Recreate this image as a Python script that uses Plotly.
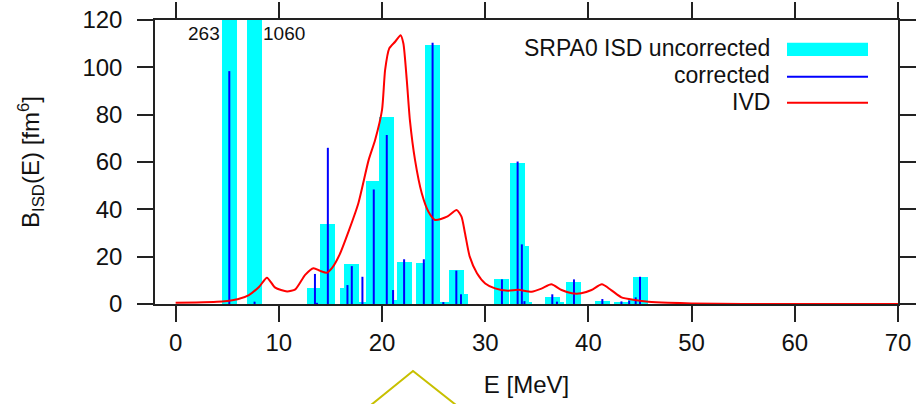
import plotly.graph_objects as go

# ---- data ----
E_levels = [5.2, 7.65, 13.5, 13.7, 14.75, 16.65, 17.07, 18.1, 19.2, 20.46, 21.07, 22.14,
            24.05, 24.9, 25.94, 27.2, 27.65, 31.62, 33.14, 33.55, 33.8, 36.5, 36.95,
            38.6, 41.35, 43.2, 43.95, 44.58, 45.0]
B_uncorrected = [263, 1060, 6.9, 0.5, 33.7, 6.9, 17.0, 0.5, 52.1, 78.9, 1.5, 17.9,
                 17.2, 109.4, 0.8, 14.3, 4.1, 10.4, 59.4, 24.5, 1.0, 3.1, 1.0,
                 9.4, 1.1, 0.8, 1.0, 2.0, 11.5]
B_corrected = [98.4, 1.0, 12.7, 0.5, 66.0, 8.0, 16.0, 11.5, 48.4, 71.4, 5.9, 18.9,
               18.9, 110.4, 0.8, 14.1, 4.1, 10.4, 60.2, 25.2, 1.2, 4.1, 1.0,
               10.4, 2.1, 1.1, 1.4, 2.8, 11.5]

E_ivd = [0, 2, 4, 5, 6, 7.1, 8.1, 8.85, 9.65, 10.8, 11.6, 12.55, 13.36, 14.0, 14.65, 15.2,
         15.9, 16.75, 17.7, 18.7, 19.33, 20.0, 20.3, 20.7, 21.27, 21.8, 22.07, 22.4, 22.7,
         23.2, 23.85, 24.5, 25.14, 26.3, 27.23, 27.7, 28.04, 28.5, 29.2, 30.0, 30.95, 32.2,
         33.2, 34.5, 35.5, 36.4, 37.4, 38.4, 39.3, 40.3, 41.3, 42.2, 43.2, 44.5, 45.8, 47.7,
         50, 55, 60, 70]
B_ivd = [0.5, 0.6, 0.9, 1.3, 2.0, 3.8, 7.3, 11.1, 6.9, 5.3, 6.2, 12.3, 15.1, 14.0, 13.2, 15.5,
         21.0, 30.6, 42.5, 60.8, 69.3, 82.0, 98.9, 108.0, 110.8, 113.6, 110.1, 94.6, 77.7,
         60.8, 46.8, 39.0, 35.5, 36.9, 39.7, 36.9, 29.9, 20.0, 13.0, 8.7, 6.6, 5.6,
         6.0, 5.2, 6.6, 8.3, 5.9, 4.5, 4.5, 5.9, 8.3, 5.9, 2.8, 1.7, 1.0, 0.55,
         0.25, 0.05, 0.0, 0.0]

x_ticks = [0, 10, 20, 30, 40, 50, 60, 70]
y_ticks = [0, 20, 40, 60, 80, 100, 120]

# ---- layout geometry ----
W, H = 919, 404
ML, MR, MT, MB = 155, 21, 20, 100
PW, PH = W - ML - MR, H - MT - MB
FONT = "Liberation Sans, Arial, Helvetica, sans-serif"


def px(x):
    return (x - ML) / PW


def py(y):
    return (H - MB - y) / PH


fig = go.Figure()

fig.add_trace(go.Bar(x=E_levels, y=B_uncorrected, width=1.45,
                     marker=dict(color="#00ffff", line=dict(width=0)),
                     name="SRPA0 ISD uncorrected", showlegend=False))

xs, ys = [], []
for e, b in zip(E_levels, B_corrected):
    xs += [e, e, None]
    ys += [0, b, None]
fig.add_trace(go.Scatter(x=xs, y=ys, mode="lines", line=dict(color="#0000ff", width=2),
                         name="corrected", showlegend=False))

fig.add_trace(go.Scatter(x=E_ivd, y=B_ivd, mode="lines",
                         line=dict(color="#ff0000", width=2, shape="spline", smoothing=0.6),
                         name="IVD", showlegend=False))

# off-scale labels
annos = [
    dict(x=E_levels[0], y=114.5, xref="x", yref="y", text=str(B_uncorrected[0]),
         xanchor="right", yanchor="middle", xshift=-7, showarrow=False,
         font=dict(size=19, color="#111", family=FONT)),
    dict(x=E_levels[1], y=114.5, xref="x", yref="y", text=str(B_uncorrected[1]),
         xanchor="left", yanchor="middle", xshift=6, showarrow=False,
         font=dict(size=19, color="#111", family=FONT)),
]
# manual legend (text right-aligned, sample to the right)
leg = [("SRPA0 ISD uncorrected", 48), ("corrected", 75), ("IVD", 102)]
for t, yy in leg:
    annos.append(dict(x=px(771), y=py(yy), xref="paper", yref="paper", text=t,
                      xanchor="right", yanchor="middle", showarrow=False, borderpad=0,
                      font=dict(size=23, color="#111", family=FONT)))

shapes = [
    dict(type="rect", xref="paper", yref="paper", x0=px(787), x1=px(868),
         y0=py(56), y1=py(42.7), fillcolor="#00ffff", line=dict(width=0)),
    dict(type="line", xref="paper", yref="paper", x0=px(787), x1=px(868),
         y0=py(76.7), y1=py(76.7), line=dict(color="#0000ff", width=2)),
    dict(type="line", xref="paper", yref="paper", x0=px(787), x1=px(868),
         y0=py(102.7), y1=py(102.7), line=dict(color="#ff0000", width=2)),
    # olive marker below the plot
    dict(type="path", xref="paper", yref="paper",
         path="M {} {} L {} {} L {} {}".format(px(371), py(405), px(413), py(371),
                                                px(456), py(405)),
         line=dict(color="#c8c000", width=2)),
]

axis_common = dict(showline=True, linecolor="#222", linewidth=1.5, mirror="ticks",
                   ticks="outside", ticklen=16, tickwidth=1.5, tickcolor="#222",
                   showgrid=False, zeroline=False, automargin=False,
                   tickfont=dict(size=24, color="#111", family=FONT))

fig.update_layout(
    width=W, height=H, margin=dict(l=ML, r=MR, t=MT, b=MB, autoexpand=False),
    paper_bgcolor="white", plot_bgcolor="white",
    barmode="overlay", bargap=0,
    annotations=annos, shapes=shapes,
    xaxis=dict(range=[-2, 70], tickvals=x_ticks,
               title=dict(text="E [MeV]", standoff=22,
                          font=dict(size=24, color="#111", family=FONT)),
               **axis_common),
    yaxis=dict(range=[0, 120], tickvals=y_ticks, ticklabelstandoff=10,
               title=dict(text="B<sub>ISD</sub>(E) [fm<sup>6</sup>]", standoff=36,
                          font=dict(size=24, color="#111", family=FONT)),
               **axis_common),
)

fig.write_html("out.html")
